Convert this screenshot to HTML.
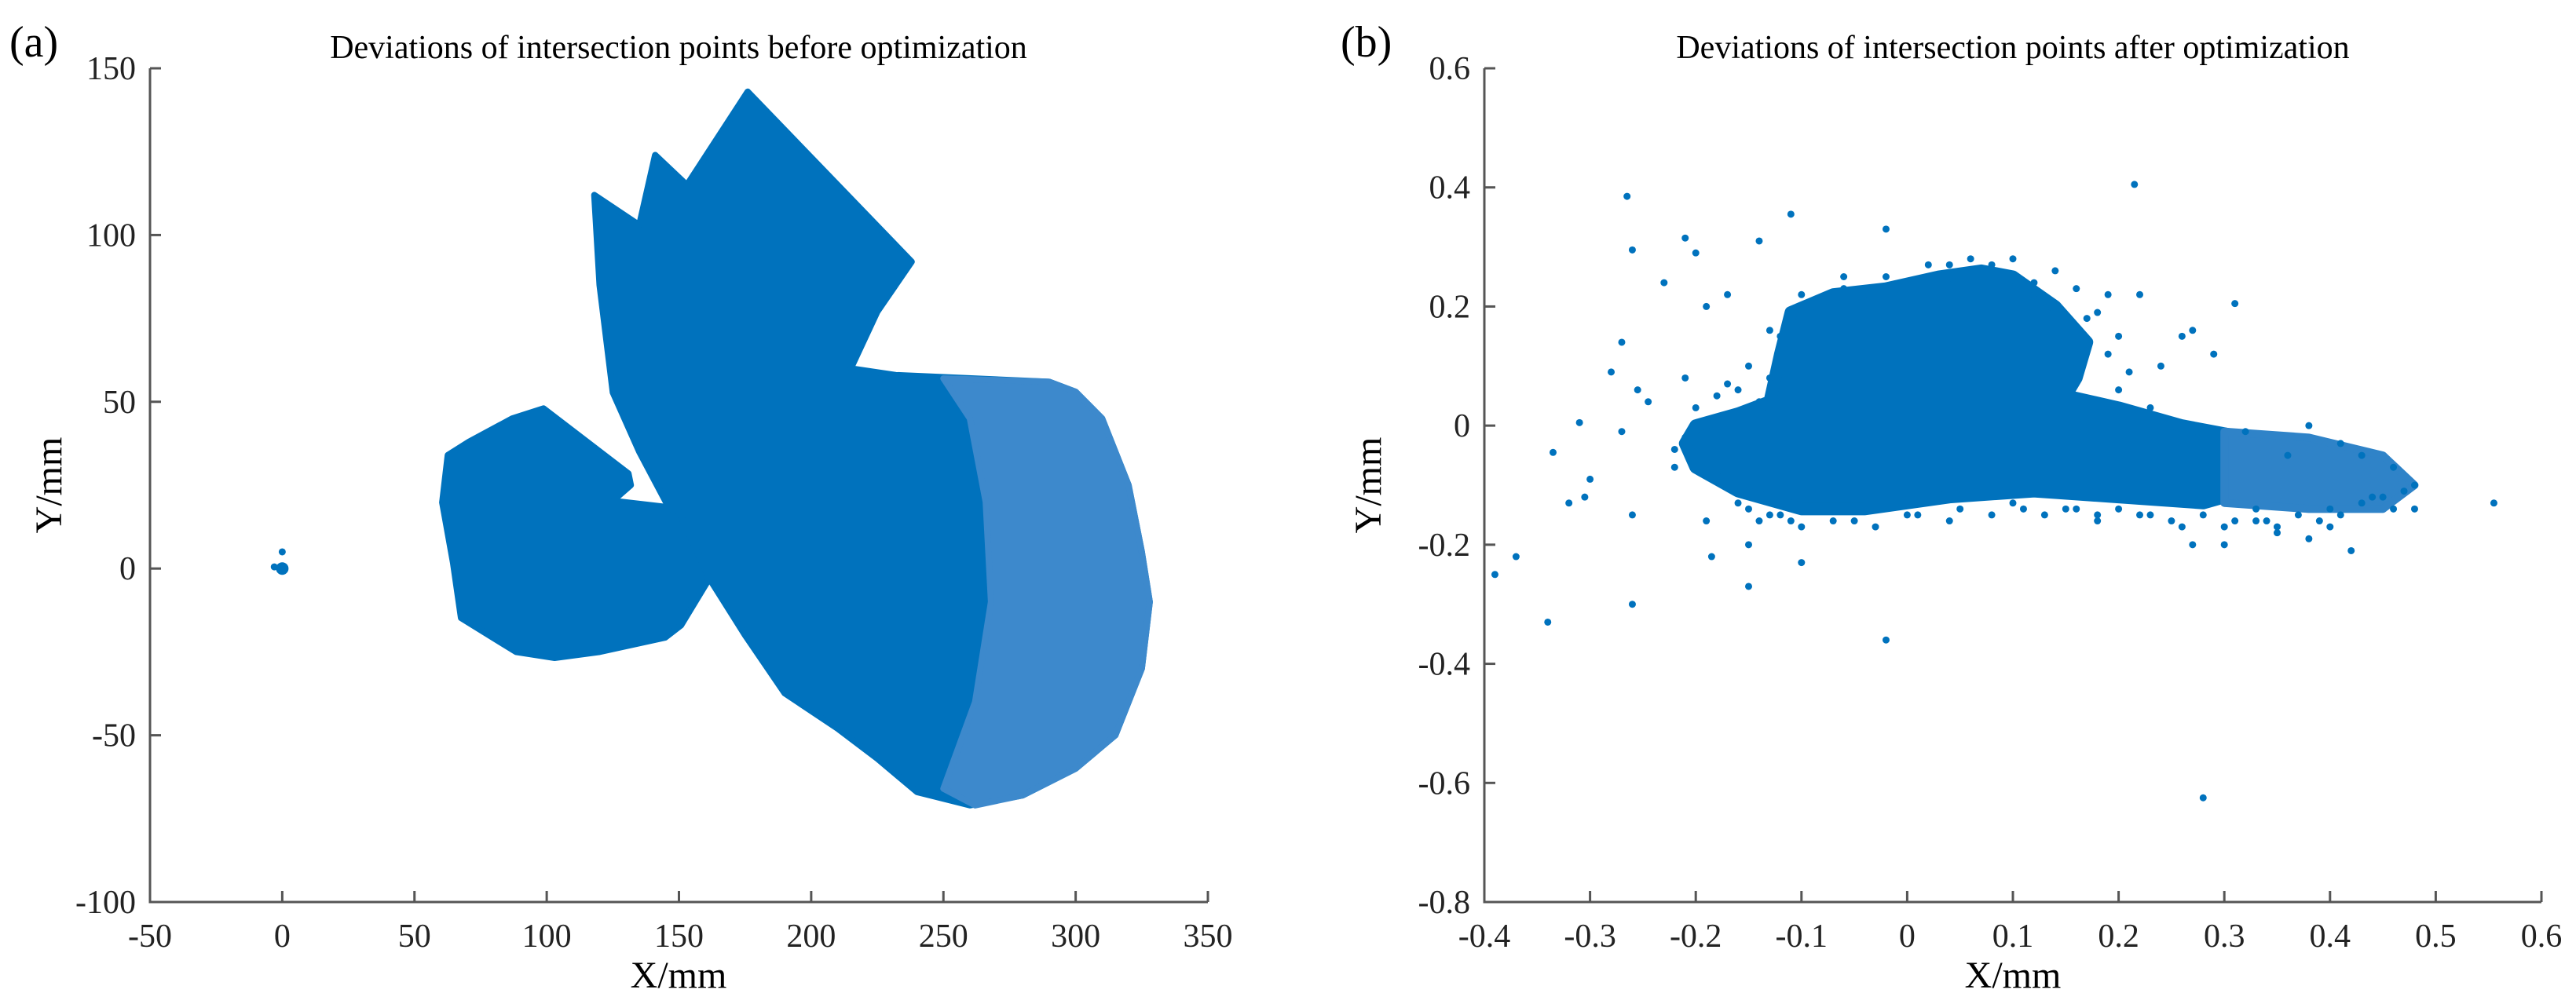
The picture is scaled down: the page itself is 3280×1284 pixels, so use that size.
<!DOCTYPE html>
<html><head><meta charset="utf-8"><style>
body{margin:0;background:#fff;}
svg{display:block;font-family:"Liberation Serif",serif;}
</style></head><body>
<svg id="fig" width="3280" height="1284" viewBox="0 0 3280 1284" xmlns="http://www.w3.org/2000/svg">
<rect width="3280" height="1284" fill="#fff"/>
<text x="12" y="72" font-size="56">(a)</text>
<text x="1707" y="72" font-size="56">(b)</text>
<text x="864" y="74" font-size="42" text-anchor="middle">Deviations of intersection points before optimization</text>
<text x="2563" y="74" font-size="42" text-anchor="middle">Deviations of intersection points after optimization</text>
<text x="864" y="1258" font-size="48" text-anchor="middle">X/mm</text>
<text x="2563" y="1258" font-size="48" text-anchor="middle">X/mm</text>
<text transform="translate(78,618) rotate(-90)" font-size="48" text-anchor="middle">Y/mm</text>
<text transform="translate(1758,618) rotate(-90)" font-size="48" text-anchor="middle">Y/mm</text>
<g id="a"></g>
<g id="b"></g>
</svg>
<script>
// ---------- Panel (a) data ----------
const aXTicks=[-50,0,50,100,150,200,250,300,350];
const aYTicks=[-100,-50,0,50,100,150];
const aBlob=[[62.6,34],[70.6,38],[87,45],[98.8,48],[130.9,28.5],[131.8,25],[125,20.3],[143.6,18.6],[150,17],[161.5,-3],[150.8,-17],[144.8,-20.7],[120,-25],[103,-26.8],[88.4,-25],[67.6,-14.8],[64.6,1.7],[60.5,19.8]];
const aFan=[[118,112],[135,103],[141,124],[153,115],[176,143],[238,92],[225,77],[215,60],[232,58],[290,56],[300,53],[310,45],[320,25],[325,5],[328,-10],[325,-30],[315,-50],[300,-60],[280,-68],[260,-71],[240,-67],[225,-57],[210,-48],[190,-37.4],[175,-20],[161.5,-3],[150,17],[145.7,19],[135,35],[125,52.8],[120,85]];
const aSparse=[[250,57],[290,56],[300,53],[310,45],[320,25],[325,5],[328,-10],[325,-30],[315,-50],[300,-60],[280,-68],[262,-71],[250,-66],[262,-40],[268,-10],[266,20],[260,45]];
const aPointsX=[0,-3,0];
const aPointsY=[0,0.5,5];
const aPointsR=[8,4.5,4.5];
// ---------- Panel (b) data ----------
const bXTicks=[-0.4,-0.3,-0.2,-0.1,0,0.1,0.2,0.3,0.4,0.5,0.6];
const bYTicks=[-0.8,-0.6,-0.4,-0.2,0,0.2,0.4,0.6];
const bCore=[[-0.21,-0.03],[-0.2,0.0],[-0.16,0.02],[-0.13,0.04],[-0.12,0.12],[-0.11,0.19],[-0.07,0.22],[-0.02,0.23],[0.03,0.25],[0.07,0.26],[0.1,0.25],[0.14,0.2],[0.17,0.14],[0.16,0.08],[0.15,0.05],[0.2,0.03],[0.26,0.0],[0.32,-0.02],[0.36,-0.04],[0.34,-0.1],[0.28,-0.13],[0.2,-0.12],[0.12,-0.11],[0.04,-0.12],[-0.04,-0.14],[-0.1,-0.14],[-0.16,-0.11],[-0.2,-0.07]];
const bTail=[[0.3,-0.01],[0.38,-0.02],[0.45,-0.05],[0.48,-0.1],[0.45,-0.14],[0.38,-0.14],[0.3,-0.13]];
const bX=[-0.39,-0.37,-0.34,-0.335,-0.32,-0.31,-0.305,-0.3,-0.265,-0.26,-0.26,-0.27,-0.28,-0.255,-0.245,-0.23,-0.21,-0.2,-0.19,-0.21,-0.185,-0.15,-0.14,-0.11,-0.1,-0.02,-0.02,0.28,0.215,0.31,0.22,0.26,0.27,0.555,0.48,0.48,0.42,0.45,0.4,0.38,0.35,0.3,0.27,-0.26,-0.27,-0.22,-0.19,-0.15,0.46,0.43,0.36,0.33,-0.17,-0.12,0.12,0.19,
-0.16,-0.14,-0.12,-0.1,-0.08,-0.05,0.0,0.05,0.1,0.15,0.18,0.22,0.25,0.3,0.34,0.37,0.4,0.44,0.47,-0.09,-0.06,-0.02,0.02,0.17,0.19,0.14,-0.13,-0.11,0.24,0.29,0.32,0.38,0.41,-0.21,-0.22,0.2,0.23,0.06,0.1,
-0.15,-0.13,-0.11,-0.07,-0.03,0.01,0.04,0.08,0.11,0.13,0.16,0.18,0.2,0.23,0.26,0.28,0.31,0.33,0.35,0.39,0.41,0.43,0.46,-0.2,-0.18,-0.16,-0.14,0.18,0.2,0.21,0.16,0.12,0.08,0.04,-0.06,-0.1,-0.13,-0.15,-0.17];
const bY=[-0.25,-0.22,-0.33,-0.045,-0.13,0.005,-0.12,-0.09,0.385,0.295,-0.3,0.14,0.09,0.06,0.04,0.24,0.315,0.29,0.2,0.08,-0.22,-0.27,0.31,0.355,-0.23,-0.36,0.33,-0.625,0.405,0.205,0.22,0.15,0.16,-0.13,-0.1,-0.14,-0.21,-0.12,-0.17,-0.19,-0.18,-0.2,-0.2,-0.15,-0.01,-0.04,-0.16,-0.2,-0.07,-0.05,-0.05,-0.14,0.22,0.15,0.22,0.22,
-0.13,-0.16,-0.15,-0.17,-0.14,-0.16,-0.15,-0.14,-0.13,-0.14,-0.16,-0.15,-0.16,-0.17,-0.16,-0.15,-0.14,-0.12,-0.11,0.2,0.23,0.25,0.27,0.18,0.12,0.26,0.08,0.1,0.1,0.12,-0.01,0.0,-0.03,-0.02,-0.07,0.06,0.03,0.28,0.28,
-0.14,-0.15,-0.16,-0.16,-0.17,-0.15,-0.16,-0.15,-0.14,-0.15,-0.14,-0.15,-0.14,-0.15,-0.17,-0.15,-0.16,-0.16,-0.17,-0.16,-0.15,-0.13,-0.14,0.03,0.05,0.06,0.04,0.19,0.15,0.09,0.23,0.24,0.27,0.27,0.25,0.22,0.16,0.1,0.07];

const NS='http://www.w3.org/2000/svg';
const BLUE='#0072bd';
function mk(tag,attrs,parent){const e=document.createElementNS(NS,tag);for(const k in attrs)e.setAttribute(k,attrs[k]);parent.appendChild(e);return e;}

function axes(g,L,R,T,B,xmin,xmax,ymin,ymax,xt,yt,fmt,suffix){
  const X=v=>L+(v-xmin)/(xmax-xmin)*(R-L);
  const Y=v=>B-(v-ymin)/(ymax-ymin)*(B-T);
  return {X,Y,draw(){
    const ax=mk('path',{d:`M${L},${T}V${B}H${R}`,fill:'none',stroke:'#555',"stroke-width":3},g);
    
    
    xt.forEach(v=>{
      const t=mk('line',{x1:X(v),x2:X(v),y1:B,y2:B-14,stroke:'#555',"stroke-width":3},g);
      
      
      const l=mk('text',{x:X(v),y:B+57,"font-size":42,"text-anchor":"middle",fill:'#222'},g);
      l.textContent=fmt(v);
      
      
    });
    yt.forEach(v=>{
      const t=mk('line',{x1:L,x2:L+14,y1:Y(v),y2:Y(v),stroke:'#555',"stroke-width":3},g);
      
      
      const l=mk('text',{x:L-18,y:Y(v)+14,"font-size":42,"text-anchor":"end",fill:'#222'},g);
      l.textContent=fmt(v);
      
      
    });
  }};
}
function poly(g,pts,A,fill,name,sw){
  const p=mk('polygon',{points:pts.map(q=>A.X(q[0])+','+A.Y(q[1])).join(' '),fill:fill,stroke:fill,"stroke-width":sw,"stroke-linejoin":"round"},g);
  
  
}
// Panel a
const ga=document.getElementById('a');
const A=axes(ga,191,1538,87,1149,-50,350,-100,150,aXTicks,aYTicks,v=>String(v),'a');
poly(ga,aBlob,A,BLUE,'cluster-blob',8);
poly(ga,aFan,A,BLUE,'cluster-fan',8);
poly(ga,aSparse,A,'#3d89cc','cluster-sparse-fan',8);
aPointsX.forEach((x,i)=>{
  const c=mk('circle',{cx:A.X(x),cy:A.Y(aPointsY[i]),r:aPointsR[i],fill:BLUE},ga);
  
  
});
A.draw();
// Panel b
const gb=document.getElementById('b');
const Bx=axes(gb,1890,3236,87,1149,-0.4,0.6,-0.8,0.6,bXTicks,bYTicks,v=>(Math.round(v*10)/10).toString(),'b');
poly(gb,bCore,Bx,BLUE,'dense-cluster',16);
poly(gb,bTail,Bx,'#2f83c8','cluster-tail',10);
bX.forEach((x,i)=>{
  const c=mk('circle',{cx:Bx.X(x),cy:Bx.Y(bY[i]),r:4.5,fill:BLUE},gb);
  
  
});
Bx.draw();
</script>
</body></html>
